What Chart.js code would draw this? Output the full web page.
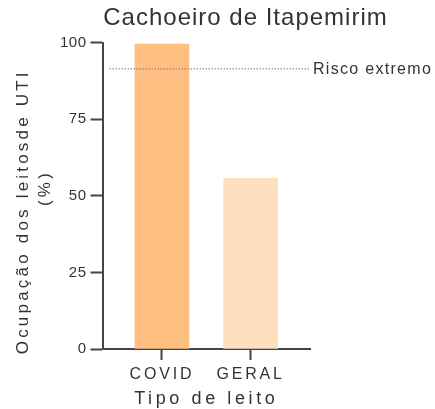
<!DOCTYPE html>
<html lang="pt">
<head>
    <meta charset="UTF-8">
    <title>Cachoeiro de Itapemirim</title>
    <script src="https://cdn.jsdelivr.net/npm/chart.js"></script>
    <style>
        html, body {
            margin: 0;
            padding: 0;
            background: #ffffff;
        }
        #wrap {
            width: 435px;
            height: 409px;
        }
    </style>
</head>
<body>
    <div id="wrap">
        <canvas id="uti"></canvas>
    </div>

    <script>
        // Dados
        const categories = ['COVID', 'GERAL'];
        const occupancy = [99.6, 55.7];
        const riskLevel = 91.5;
        const riskSpan = [-0.59, 1.67];
        const yTicks = [0, 25, 50, 75, 100];

        const FONT = "'Liberation Sans', Arial, sans-serif";
        const INK = '#333333';

        // espaçamento entre letras so na hora de desenhar
        function spaced(obj, method, spacing) {
            const orig = obj[method];
            obj[method] = function (...args) {
                const ctx = this.ctx;
                const prev = ctx.letterSpacing;
                ctx.letterSpacing = spacing;
                orig.apply(this, args);
                ctx.letterSpacing = prev;
            };
        }

        const tweaks = {
            id: 'tweaks',
            afterLayout(chart) {
                const x = chart.scales.x, y = chart.scales.y, t = chart.titleBlock;
                if (!x._spaced) {
                    spaced(x, 'drawLabels', '2.8px');
                    spaced(x, 'drawTitle', '3.6px');
                    spaced(y, 'drawTitle', '3.2px');
                    spaced(y, 'drawLabels', '0.5px');
                    spaced(t, 'draw', '1px');
                    x._spaced = true;
                }
                // título centrado sobre toda a figura
                t.left = 60;
                t.right = 431;
            },
            afterDatasetsDraw(chart) {
                const ctx = chart.ctx;
                const px = chart.scales.x.getPixelForValue(riskSpan[1]);
                const py = chart.scales.y.getPixelForValue(riskLevel);
                ctx.save();
                ctx.letterSpacing = '1.3px';
                ctx.font = '16px ' + FONT;
                ctx.fillStyle = INK;
                ctx.textAlign = 'left';
                ctx.textBaseline = 'middle';
                ctx.fillText('Risco extremo', px + 3, py + 1);
                ctx.restore();
            }
        };

        const ctx = document.getElementById('uti').getContext('2d');
        new Chart(ctx, {
            type: 'bar',
            data: {
                datasets: [{
                    type: 'bar',
                    data: occupancy.map((v, i) => ({ x: i, y: v })),
                    backgroundColor: ['#FFBF80', '#FFDFBF'],
                    borderWidth: 0,
                    barThickness: 54,
                    order: 2
                }, {
                    type: 'line',
                    data: riskSpan.map(v => ({ x: v, y: riskLevel })),
                    borderColor: '#777777',
                    borderWidth: 1.2,
                    borderDash: [1.2, 1.8],
                    pointRadius: 0,
                    fill: false,
                    order: 1
                }]
            },
            options: {
                responsive: true,
                maintainAspectRatio: false,
                animation: false,
                layout: {
                    padding: { left: 11, right: 125, top: 0, bottom: 0 }
                },
                plugins: {
                    legend: { display: false },
                    tooltip: { enabled: false },
                    title: {
                        display: true,
                        text: 'Cachoeiro de Itapemirim',
                        color: INK,
                        font: { family: FONT, size: 24, weight: 'normal', lineHeight: 1.2 },
                        padding: { top: 4, bottom: 10 }
                    }
                },
                scales: {
                    x: {
                        type: 'linear',
                        min: -0.67,
                        max: 1.67,
                        offset: false,
                        afterBuildTicks: s => { s.ticks = categories.map((c, i) => ({ value: i })); },
                        ticks: {
                            callback: v => categories[v],
                            color: INK,
                            padding: 5,
                            font: { family: FONT, size: 16 }
                        },
                        grid: {
                            offset: false,
                            drawOnChartArea: false,
                            tickLength: 11,
                            tickWidth: 2,
                            tickColor: '#444444'
                        },
                        border: { color: '#444444', width: 2 },
                        title: {
                            display: true,
                            text: 'Tipo de leito',
                            color: INK,
                            font: { family: FONT, size: 18, lineHeight: 1.1 },
                            padding: { top: 0, bottom: 0 }
                        }
                    },
                    y: {
                        min: 0,
                        max: 100,
                        afterBuildTicks: s => { s.ticks = yTicks.map(v => ({ value: v })); },
                        ticks: {
                            color: INK,
                            padding: 4,
                            font: { family: FONT, size: 15 }
                        },
                        grid: {
                            drawOnChartArea: false,
                            tickLength: 12,
                            tickWidth: 2,
                            tickColor: '#444444'
                        },
                        border: { color: '#444444', width: 2 },
                        title: {
                            display: true,
                            text: ['Ocupação dos leitosde UTI    ', '  (%)'],
                            color: INK,
                            font: { family: FONT, size: 17, lineHeight: 1.25 },
                            padding: { top: 2, bottom: 2 }
                        }
                    }
                }
            },
            plugins: [tweaks]
        });
    </script>
</body>
</html>
